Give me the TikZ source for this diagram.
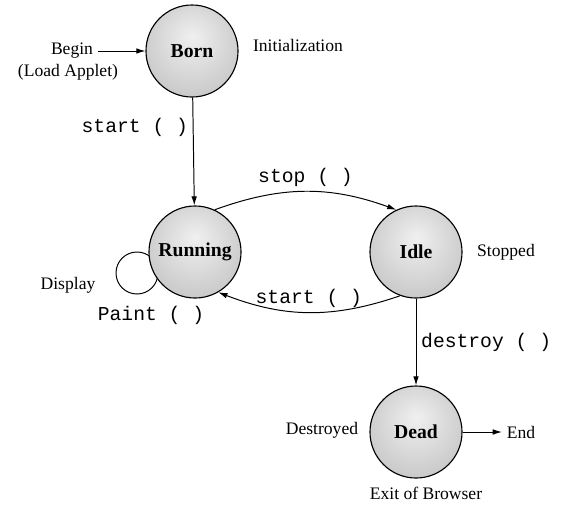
\documentclass[tikz,border=0pt]{standalone}
\usepackage{fontspec}
\setmainfont{Liberation Serif}
\setmonofont{Liberation Mono}
\usepackage{tikz}
\usetikzlibrary{arrows.meta}

% Light grey shading for the states, brightest a little above the middle
\pgfdeclareradialshading{orb}{\pgfpoint{0bp}{8bp}}{%
    color(0bp)=(gray!12); color(22bp)=(gray!35); color(45bp)=(gray!58); color(60bp)=(gray!68)}

\begin{document}
\begin{tikzpicture}[x=0.025cm, y=-0.025cm, >={Latex[length=6.5pt, width=4pt]}]

                % Styles for the applet states and their labels
                \tikzset{
                    state/.style={circle, draw, line width=0.8pt, shade, shading=orb,
                        minimum size=2.3cm, inner sep=0pt, font=\fontsize{14}{16}\selectfont\bfseries},
                    lbl/.style={font=\fontsize{12.5}{14}\selectfont},
                    call/.style={font=\fontsize{14}{16}\selectfont\ttfamily},
                    wire/.style={->, line width=0.7pt}
                }

                % Fixes the page to the size of the picture
                \useasboundingbox (0, 0) rectangle (563, 507);

                % The paint loop sits behind the running state
                \node (paintloop) at (137, 273) [circle, draw, line width=0.7pt, minimum size=1.05cm] {};

                % The four states of the applet
                \begin{scope}
                    \node (born) at (192, 51) [state] {Born};
                    \node (running) at (195, 252) [state] {Running};
                    \node (idle) at (416, 252) [state] {Idle};
                    \node (dead) at (416, 432) [state] {Dead};
                \end{scope}

                % Texts beside the states
                \begin{scope}[lbl]
                    \node (begin) at (72, 51) {Begin};
                    \node (loadlbl) at (68, 72) {(Load Applet)};
                    \node (initlbl) at (298, 45) {Initialization};
                    \node (display) at (68, 285) {Display};
                    \node (stopped) at (506, 252) {Stopped};
                    \node (destroyed) at (322, 430) {Destroyed};
                    \node (endlbl) at (521, 432) {End};
                    \node (exitlbl) at (426, 493) {Exit of Browser};
                \end{scope}
                \node (paint) at (151, 315) [call] {Paint ( )};

                % Transitions between the states
                \begin{scope}[wire]
                    \draw (begin) -- (born);
                    \draw (born) -- node[pos=0.28, left, call] {start ( )} (running);
                    \draw (running.65) to[bend left=20] node[above, call] {stop ( )} (idle.115);
                    \draw (idle.250) to[bend left=20] node[above, call] {start ( )} (running.300);
                    \draw (idle) -- node[right, call] {destroy ( )} (dead);
                    \draw (dead) -- (endlbl);
                \end{scope}

\end{tikzpicture}
\end{document}
